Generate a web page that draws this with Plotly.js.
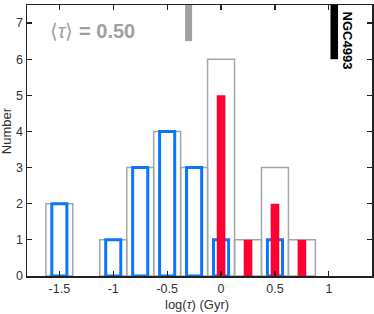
<!DOCTYPE html>
<html><head><meta charset="utf-8">
<script src="https://cdn.plot.ly/plotly-3.0.1.min.js"></script>
<style>html,body{margin:0;padding:0;background:#fff}#c{width:374px;height:314px}</style>
</head><body><div id="c"></div>
<script>
// histogram bin centres (log tau, Gyr) and counts
const allBins   = [-1.5, -1.0, -0.75, -0.5, -0.25, 0.0, 0.25, 0.5, 0.75];
const allCounts = [2, 1, 3, 4, 3, 6, 1, 3, 1];
const blueBins   = [-1.5, -1.0, -0.75, -0.5, -0.25, 0.0, 0.5];
const blueCounts = [2, 1, 3, 4, 3, 1, 1];
const redBins   = [0.0, 0.25, 0.5, 0.75];
const redCounts = [5, 1, 2, 1];
const meanTau = 0.50;        // Gyr
const ngcLogTau = 1.05;
const xTickVals = [-1.5, -1, -0.5, 0, 0.5, 1];
const xTickText = ['-1.5', '-1', '-0.5', '0', '0.5', '1'];
const yTickVals = [0, 1, 2, 3, 4, 5, 6, 7];

const fam = 'Liberation Sans, Arial, sans-serif';
const font = {family: fam, size: 12.5, color: '#333'};
const traces = [
  {type: 'bar', x: allBins, y: allCounts, width: allBins.map(() => 0.25),
   marker: {color: 'rgba(255,255,255,0)', line: {color: '#a6a6a6', width: 1.5}}, hoverinfo: 'skip'},
  {type: 'bar', x: blueBins, y: blueCounts, width: blueBins.map(() => 0.14),
   marker: {color: 'rgba(255,255,255,0)', line: {color: '#0a75ff', width: 3}}, hoverinfo: 'skip'},
  {type: 'bar', x: redBins, y: redCounts, width: redBins.map(() => 0.08),
   marker: {color: '#ff0033', line: {width: 0}}, hoverinfo: 'skip'},
  {type: 'bar', x: [Math.log10(meanTau)], y: [1.0], base: [6.5], width: [0.065],
   marker: {color: '#a0a0a0', line: {width: 0}}, hoverinfo: 'skip'},
  {type: 'bar', x: [ngcLogTau], y: [1.5], base: [6.0], width: [0.07],
   marker: {color: '#000', line: {width: 0}}, hoverinfo: 'skip'}
];
const axisCommon = {showline: true, linecolor: '#222', linewidth: 1.5, mirror: 'ticks',
  ticks: 'inside', ticklen: 5, tickwidth: 1.2, tickcolor: '#222', showgrid: false, zeroline: false,
  tickfont: font};
const layout = {
  width: 374, height: 314, margin: {l: 27, r: 2, t: 5, b: 38},
  paper_bgcolor: '#fff', plot_bgcolor: '#fff', showlegend: false, barmode: 'overlay',
  font: font,
  xaxis: Object.assign({}, axisCommon, {range: [-1.8, 1.4], tickvals: xTickVals, ticktext: xTickText}),
  yaxis: Object.assign({}, axisCommon, {range: [0, 7.5], tickvals: yTickVals}),
  annotations: [
    {x: 0.493, y: -0.104, xref: 'paper', yref: 'paper', xanchor: 'center', yanchor: 'middle', showarrow: false,
     text: 'log(<i>τ</i>) (Gyr)', font: {family: fam, size: 13, color: '#333'}},
    {x: -0.061, y: 0.538, xref: 'paper', yref: 'paper', xanchor: 'center', yanchor: 'middle', showarrow: false,
     textangle: -90, text: 'Number', font: {family: fam, size: 13, color: '#333'}},
    {x: -1.606, y: 6.77, xref: 'x', yref: 'y', xanchor: 'left', yanchor: 'middle', showarrow: false,
     text: '⟨<i>τ</i>⟩ <b>= 0.50</b>', font: {family: fam, size: 20, color: '#a0a0a0'}},
    {x: 1.176, y: 6.52, xref: 'x', yref: 'y', xanchor: 'center', yanchor: 'middle', showarrow: false,
     textangle: 90, text: '<b>NGC4993</b>', font: {family: fam, size: 13, color: '#000'}}
  ]
};
Plotly.newPlot('c', traces, layout, {staticPlot: true, displayModeBar: false});
</script></body></html>
